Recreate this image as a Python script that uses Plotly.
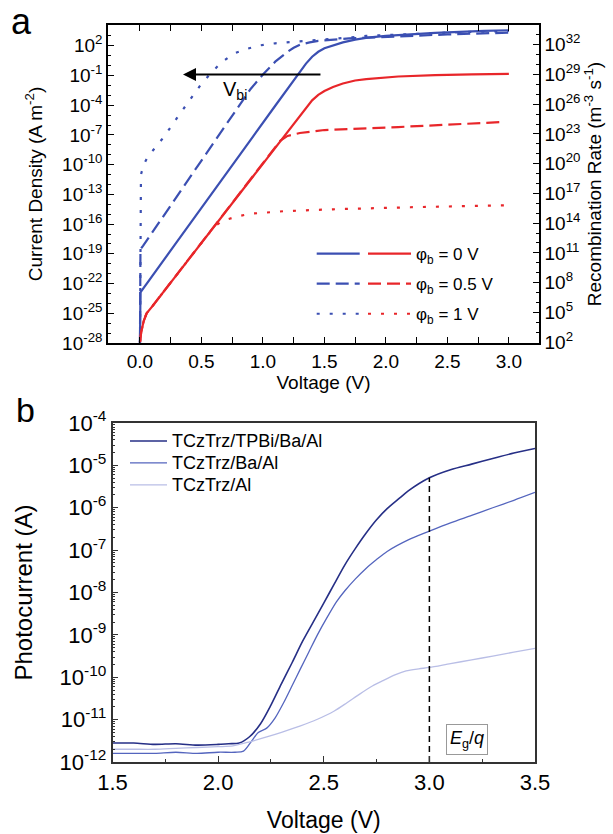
import plotly.graph_objects as go

# ---------------- Panel a data ----------------
# Current density (left axis), blue
V_j0 = [0, 0.004, 0.3, 0.6, 0.9, 1.1, 1.25, 1.3, 1.35, 1.4, 1.45, 1.5, 1.57, 1.65, 1.75, 1.85, 2.0, 2.4, 2.8, 3.0]
J_phi0 = [1e-28, 1.3e-23, 1.6e-18, 2.0e-13, 3.2e-8, 8.9e-5, 3.2e-2, 0.2, 1.6, 7.9, 25, 56, 112, 224, 417, 661,
          1000, 2000, 3162, 3715]

V_j05 = [0, 0.004, 0.025, 0.3, 0.6, 0.9, 1.0, 1.1, 1.2, 1.25, 1.3, 1.38, 1.45, 1.7, 2.0, 2.5, 3.0]
J_phi05 = [1e-28, 3.0e-19, 6.3e-19, 6.9e-14, 1.7e-8, 4.4e-3, 0.126, 2.5, 25, 63, 126, 224, 316, 562, 832, 1413, 2138]

V_j1 = [0, 0.003, 0.008, 0.03, 0.068, 0.13, 0.2, 0.3, 0.41, 0.49, 0.57, 0.66, 0.76, 0.87, 0.98,
        1.1, 1.25, 1.44, 1.6, 1.84, 2.2, 2.6, 3.0]
J_phi1 = [1e-28, 1e-15, 1e-11, 1e-10, 7.9e-10, 6.3e-9, 7.9e-8, 5.0e-6, 4.0e-4, 1.0e-2, 0.14, 2.0, 15.8, 50, 112,
          178, 251, 363, 537, 1000, 1585, 2399, 3162]

# Recombination rate (right axis), red
V_r0 = [0, 0.01, 0.03, 0.054, 0.1, 0.3, 0.6, 0.9, 1.1, 1.2, 1.3, 1.35, 1.4, 1.45, 1.5, 1.57, 1.65, 1.75, 1.84,
        2.1, 2.4, 2.7, 3.0]
R_phi0 = [1e2, 1e3, 1.26e4, 7.9e4, 4.0e5, 6.3e8, 4.0e13, 2.5e18, 4.0e21, 1.6e23, 6.3e24, 5.0e25, 2.5e26, 8.9e26,
          2.2e27, 5.6e27, 1.26e28, 2.5e28, 3.5e28, 6.3e28, 8.9e28, 1.05e29, 1.17e29]

V_r05 = [0, 0.01, 0.03, 0.054, 0.1, 0.3, 0.6, 0.9, 1.1, 1.14, 1.2, 1.3, 1.5, 2.1, 2.95]
R_phi05 = [1e2, 1e3, 1.26e4, 7.9e4, 4.0e5, 6.3e8, 4.0e13, 2.5e18, 4.0e21, 2.0e22, 6.3e22, 1.26e23, 2.5e23,
           5.0e23, 1.6e24]

V_r1 = [0, 0.01, 0.03, 0.054, 0.1, 0.3, 0.6, 0.65, 0.7, 0.8, 0.9, 1.17, 1.57, 2.2, 2.98]
R_phi1 = [1e2, 1e3, 1.26e4, 7.9e4, 4.0e5, 6.3e8, 4.0e13, 1.1e14, 2.2e14, 5.0e14, 8.9e14, 1.6e15, 2.5e15,
          4.0e15, 6.3e15]

phi_labels = ["φ<sub>b</sub> = 0 V", "φ<sub>b</sub> = 0.5 V", "φ<sub>b</sub> = 1 V"]

left_tick_exp = [2, -1, -4, -7, -10, -13, -16, -19, -22, -25, -28]
right_tick_exp = [32, 29, 26, 23, 20, 17, 14, 11, 8, 5, 2]
xa_ticks = [0.0, 0.5, 1.0, 1.5, 2.0, 2.5, 3.0]
xa_ticktext = ["0.0", "0.5", "1.0", "1.5", "2.0", "2.5", "3.0"]

# Built-in voltage arrow (V)
vbi_arrow_from = 1.48
vbi_arrow_to = 0.35

# ---------------- Panel b data ----------------
V_b = [1.5, 1.6, 1.7, 1.8, 1.9, 2.0, 2.05, 2.1, 2.15, 2.2, 2.25, 2.3, 2.35, 2.4, 2.45, 2.5, 2.55, 2.6,
       2.65, 2.7, 2.75, 2.8, 2.86, 2.9, 3.0, 3.1, 3.2, 3.3, 3.4, 3.5]
I_tpbi = [2.8e-12, 2.8e-12, 2.6e-12, 2.7e-12, 2.5e-12, 2.6e-12, 2.7e-12, 2.8e-12, 4.0e-12, 7.9e-12, 2.2e-11,
          7.1e-11, 2.2e-10, 7.1e-10, 2.0e-9, 5.6e-9, 1.6e-8, 4.5e-8, 1.1e-7, 2.5e-7, 5.2e-7, 9.5e-7, 1.7e-6,
          2.5e-6, 5.1e-6, 7.9e-6, 1.07e-5, 1.45e-5, 1.95e-5, 2.5e-5]

V_b2 = [1.5, 1.6, 1.7, 1.8, 1.9, 2.0, 2.08, 2.12, 2.16, 2.19, 2.23, 2.27, 2.31, 2.35, 2.39, 2.43, 2.47, 2.52,
        2.56, 2.6, 2.65, 2.7, 2.75, 2.8, 2.9, 3.0, 3.1, 3.2, 3.3, 3.4, 3.5]
I_ba = [1.6e-12, 1.6e-12, 1.6e-12, 1.7e-12, 1.6e-12, 1.7e-12, 1.7e-12, 1.8e-12, 3.2e-12, 5.0e-12, 6.3e-12,
        1.1e-11, 2.5e-11, 6.3e-11, 1.6e-10, 4.0e-10, 1.0e-9, 2.8e-9, 6.0e-9, 1.1e-8, 2.1e-8, 3.7e-8, 6.0e-8,
        9.3e-8, 1.74e-7, 2.8e-7, 4.4e-7, 6.6e-7, 1.0e-6, 1.5e-6, 2.3e-6]

V_b3 = [1.5, 1.6, 1.7, 1.8, 1.9, 2.0, 2.07, 2.15, 2.23, 2.3, 2.39, 2.47, 2.55, 2.61, 2.67, 2.73, 2.78, 2.84,
        2.89, 2.95, 3.0, 3.1, 3.2, 3.3, 3.4, 3.5]
I_al = [2.0e-12, 2.0e-12, 2.0e-12, 2.1e-12, 2.2e-12, 2.3e-12, 2.4e-12, 3.0e-12, 3.9e-12, 5.0e-12, 7.1e-12,
        1.02e-11, 1.6e-11, 2.5e-11, 4.0e-11, 6.2e-11, 8.3e-11, 1.15e-10, 1.41e-10, 1.58e-10, 1.7e-10, 2.1e-10,
        2.57e-10, 3.16e-10, 3.9e-10, 4.8e-10]

device_names = ["TCzTrz/TPBi/Ba/Al", "TCzTrz/Ba/Al", "TCzTrz/Al"]
b_tick_exp = [-4, -5, -6, -7, -8, -9, -10, -11, -12]
xb_ticks = [1.5, 2.0, 2.5, 3.0, 3.5]
xb_ticktext = ["1.5", "2.0", "2.5", "3.0", "3.5"]

Eg_V = [3.0, 3.0]
Eg_I = [1e-12, 5.1e-6]

# ---------------- Styling ----------------
FONT = "Liberation Sans, Arial, sans-serif"
BLUE = "#3B4FB2"
RED = "#E8262A"
DARK = "#262F86"
MED = "#5465BE"
LIGHT = "#B9BEE6"
W, H = 613, 834


def px_x(p):
    return p / W


def px_y(p):
    return 1 - p / H


fig = go.Figure()

dashes = ["solid", "13px,6px", "3px,10px"]
J_sets = [(V_j0, J_phi0), (V_j05, J_phi05), (V_j1, J_phi1)]
R_sets = [(V_r0, R_phi0), (V_r05, R_phi05), (V_r1, R_phi1)]

for i, (vx, jy) in enumerate(J_sets):
    fig.add_trace(go.Scatter(x=vx, y=jy, mode="lines", name=" ", legend="legend",
                             legendgroup="b%d" % i,
                             line=dict(color=BLUE, width=2.2, dash=dashes[i]),
                             xaxis="x", yaxis="y"))
for i, (vx, ry) in enumerate(R_sets):
    fig.add_trace(go.Scatter(x=vx, y=ry, mode="lines", name=phi_labels[i], legend="legend2",
                             legendgroup="r%d" % i,
                             line=dict(color=RED, width=2.2, dash=dashes[i]),
                             xaxis="x", yaxis="y2"))

b_sets = [(V_b, I_tpbi, DARK, 1.6), (V_b2, I_ba, MED, 1.3), (V_b3, I_al, LIGHT, 1.3)]
for i, (vx, iy, col, lw) in enumerate(b_sets):
    fig.add_trace(go.Scatter(x=vx, y=iy, mode="lines", legend="legend3", legendgroup="d%d" % i,
                             name='<span style="font-size:18px">%s</span>' % device_names[i],
                             line=dict(color=col, width=lw, shape="spline", smoothing=0.8),
                             xaxis="x3", yaxis="y3"))

fig.add_trace(go.Scatter(x=Eg_V, y=Eg_I, mode="lines", showlegend=False,
                         line=dict(color="black", width=1.5, dash="6px,4px"), xaxis="x3", yaxis="y3"))

axis_common = dict(showline=True, linecolor="black", linewidth=1.5, ticks="inside",
                   tickcolor="black", showgrid=False, zeroline=False, automargin=False,
                   tickfont=dict(family=FONT, size=19, color="black"))
axis_b = dict(showline=True, linecolor="#333", linewidth=1.5, ticks="inside", tickcolor="#333",
              showgrid=False, zeroline=False, automargin=False, mirror=True,
              tickfont=dict(family=FONT, size=22, color="black"))

fig.update_layout(
    width=W, height=H, margin=dict(l=0, r=0, t=0, b=0, autoexpand=False),
    paper_bgcolor="white", plot_bgcolor="white",
    font=dict(family=FONT, color="black"),
    xaxis=dict(domain=[px_x(108), px_x(539)], range=[-0.26, 3.245], anchor="y",
               tickvals=xa_ticks, ticktext=xa_ticktext, ticklen=6, tickwidth=1.2, mirror="allticks",
               minor=dict(ticks="inside", ticklen=3, tickvals=[0.25, 0.75, 1.25, 1.75, 2.25, 2.75],
                          tickcolor="black"),
               title=dict(text="Voltage (V)", font=dict(size=19), standoff=1),
               **axis_common),
    yaxis=dict(domain=[px_y(343), px_y(25)], type="log", range=[-28, 4.1], anchor="x",
               tickvals=[10.0 ** e for e in left_tick_exp],
               ticktext=["10<sup>%d</sup>" % e for e in left_tick_exp],
               ticklen=6, tickwidth=1.2,
               minor=dict(ticks="inside", ticklen=3, tickcolor="black",
                          tickvals=[10.0 ** e for e in range(-28, 5)]),
               title=dict(text="Current Density (A m<sup>-2</sup>)", font=dict(size=19), standoff=14),
               **axis_common),
    yaxis2=dict(type="log", range=[1.9, 34.0], overlaying="y", side="right", anchor="x",
                tickvals=[10.0 ** e for e in right_tick_exp],
                ticktext=["10<sup>%d</sup>" % e for e in right_tick_exp],
                ticklen=6, tickwidth=1.2,
                minor=dict(ticks="inside", ticklen=3, tickcolor="black",
                           tickvals=[10.0 ** e for e in range(2, 35)]),
                title=dict(text="Recombination Rate (m<sup>-3</sup> s<sup>-1</sup>)", font=dict(size=19),
                           standoff=8),
                **axis_common),
    xaxis3=dict(domain=[px_x(112.5), px_x(535)], range=[1.5, 3.5], anchor="y3",
                tickvals=xb_ticks, ticktext=xb_ticktext, ticklen=6, tickwidth=1.2,
                minor=dict(ticks="inside", ticklen=3, tickvals=[1.75, 2.25, 2.75, 3.25], tickcolor="#333"),
                title=dict(text="Voltage (V)", font=dict(size=23), standoff=18),
                **axis_b),
    yaxis3=dict(domain=[px_y(762), px_y(423)], type="log", range=[-12, -4], anchor="x3",
                tickvals=[10.0 ** e for e in b_tick_exp],
                ticktext=["10<sup>%d</sup>" % e for e in b_tick_exp],
                ticklen=6, tickwidth=1.2,
                minor=dict(ticks="inside", ticklen=3, tickcolor="#333",
                           tickvals=[m * 10.0 ** e for e in range(-12, -4) for m in range(2, 10)]),
                title=dict(text="Photocurrent (A)", font=dict(size=24), standoff=20),
                **axis_b),
    legend=dict(x=px_x(311.7), y=px_y(236), xanchor="left", yanchor="top", bgcolor="rgba(0,0,0,0)",
                font=dict(size=17, family=FONT), tracegroupgap=5, itemwidth=43),
    legend2=dict(x=px_x(363), y=px_y(236), xanchor="left", yanchor="top", bgcolor="rgba(0,0,0,0)",
                 font=dict(size=17, family=FONT), tracegroupgap=5, itemwidth=43),
    legend3=dict(x=px_x(125), y=px_y(425), xanchor="left", yanchor="top", bgcolor="rgba(0,0,0,0)",
                 font=dict(size=14.6, family=FONT), tracegroupgap=0, itemwidth=37),
    annotations=[
        dict(x=vbi_arrow_to, y=-0.9, ax=vbi_arrow_from, ay=-0.9, xref="x", yref="y", axref="x", ayref="y",
             text="", showarrow=True, arrowhead=2, arrowsize=1.3, arrowwidth=2, arrowcolor="black"),
        dict(x=0.77, y=-2.5, xref="x", yref="y", text="V<sub>bi</sub>", showarrow=False,
             font=dict(size=20, family=FONT)),
        dict(x=3.18, y=-11.46, xref="x3", yref="y3", text="<i>E</i><sub>g</sub>/<i>q</i>", showarrow=False,
             font=dict(size=18, family=FONT), bordercolor="#999", borderwidth=1, borderpad=3, bgcolor="white"),
        dict(x=px_x(22), y=px_y(22), xref="paper", yref="paper", text="a", showarrow=False,
             xanchor="center", yanchor="middle", font=dict(size=36, family=FONT)),
        dict(x=px_x(25), y=px_y(410), xref="paper", yref="paper", text="b", showarrow=False,
             xanchor="center", yanchor="middle", font=dict(size=34, family=FONT)),
    ],
)

fig.write_html("out.html", config={"displayModeBar": False},
               post_script="document.body.style.margin='0';document.body.style.overflow='hidden';")
